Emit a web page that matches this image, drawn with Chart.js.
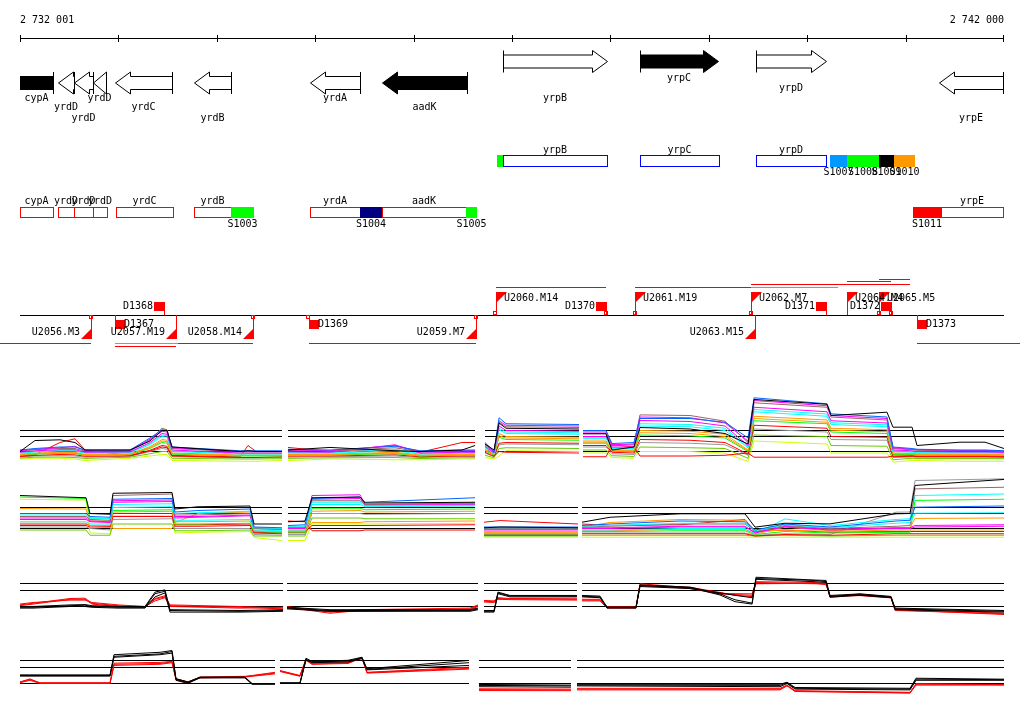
<!DOCTYPE html>
<html>
<head>
<meta charset="utf-8">
<script src="https://cdn.jsdelivr.net/npm/chart.js@4.4.0/dist/chart.umd.min.js"></script>
<style>
  body { margin: 0; background: #fff; }
  #wrap { position: relative; width: 1024px; height: 714px; overflow: hidden; }
  canvas { position: absolute; left: 0; }
</style>
</head>
<body>
<div id="wrap">
  <canvas id="annot"></canvas>
  <canvas id="row1"></canvas>
  <canvas id="row2"></canvas>
  <canvas id="row3"></canvas>
  <canvas id="row4"></canvas>
</div>
<script>
// ---- genome window ----
const X_MIN = 2732001, X_MAX = 2742000;
const RULER_TICKS = [2732001, 2733001, 2734001, 2735001, 2736001, 2737001, 2738001, 2739001, 2740001, 2741001, 2742000];

// ---- genes ----
const geneName   = ['cypA', 'yrdD', 'yrdD', 'yrdD', 'yrdC', 'yrdB', 'yrdA', 'aadK', 'yrpB', 'yrpC', 'yrpD', 'yrpE'];
const geneStart  = [2731700, 2732387, 2732550, 2732743, 2732966, 2733769, 2734948, 2735680, 2736909, 2738301, 2739480, 2741340];
const geneEnd    = [2732336, 2732550, 2732743, 2732875, 2733546, 2734145, 2735456, 2736543, 2737966, 2739094, 2740192, 2741990];
const geneStrand = [-1, -1, -1, -1, -1, -1, -1, -1, 1, 1, 1, -1];

// ---- operon / site boxes ----
const opName   = ['cypA', 'yrdD', 'yrdD', 'yrdD', 'yrdC', 'yrdB', 'S1003', 'yrdA', 'S1004', 'aadK', 'S1005', '', 'yrpB', 'yrpC', 'yrpD', 'S1007', 'S1008', 'S1009', 'S1010', 'S1011', 'yrpE'];
const opStart  = [2732001, 2732387, 2732550, 2732743, 2732977, 2733769, 2734145, 2734948, 2735456, 2735680, 2736533, 2736848, 2736909, 2738301, 2739480, 2740232, 2740405, 2740730, 2740883, 2741076, 2741360];
const opEnd    = [2732336, 2732550, 2732743, 2732885, 2733556, 2734145, 2734379, 2735456, 2735680, 2736533, 2736645, 2736909, 2737966, 2739104, 2740192, 2740405, 2740730, 2740883, 2741096, 2741360, 2741990];
const opStrand = [-1, -1, -1, -1, -1, -1, -1, -1, -1, -1, -1, 1, 1, 1, 1, 1, 1, 1, 1, -1, -1];

// ---- transcription units ----
const tuName   = ['U2056.M3', 'U2057.M19', 'U2058.M14', 'U2059.M7', 'U2060.M14', 'U2061.M19', 'U2062.M7', 'U2063.M15', 'U2064.M4', 'U2065.M5'];
const tuPos    = [2732723, 2733586, 2734369, 2736635, 2736838, 2738251, 2739429, 2739470, 2740405, 2740730];
const tuStrand = [-1, -1, -1, -1, 1, 1, 1, -1, 1, 1];

const siteName   = ['D1367', 'D1368', 'D1369', 'D1370', 'D1371', 'D1372', 'D1373'];
const sitePos    = [2732966, 2733464, 2734938, 2737956, 2740192, 2740852, 2741116];
const siteStrand = [-1, 1, -1, 1, 1, 1, -1];

const markPos    = [2732723, 2734369, 2734928, 2736635, 2736828, 2737956, 2738251, 2739429, 2740730, 2740852];
const markStrand = [-1, -1, -1, -1, 1, 1, 1, 1, 1, 1];

const spanStart = [2731798, 2732966, 2732966, 2733607, 2734938, 2741116, 2736838, 2738251, 2739429, 2739429, 2740405, 2740730];
const spanEnd   = [2732723, 2733607, 2733586, 2734369, 2736635, 2742163, 2737956, 2739429, 2740314, 2741045, 2740852, 2741045];

// ---- expression tracks ----
const ROW1_X = [2732001, 2732153, 2732407, 2732560, 2732662, 2733119, 2733322, 2733444, 2733495, 2733546, 2734237, 2734318, 2734399, 2734663, 2734694,
  2734724, 2735151, 2735812, 2736066, 2736493, 2736625, 2736676,
  2736726, 2736818, 2736869, 2736940, 2737682, 2737702,
  2737722, 2737956, 2738017, 2738240, 2738301, 2738810, 2739165, 2739399, 2739460, 2740202, 2740242, 2740811, 2740872, 2741066, 2741116, 2741553, 2741807, 2742000];
const row1Black    = [0.0, 0.73, 0.78, 0.6, 0.1, 0.1, 0.7, 1.4, 1.4, 0.3, 0.0, 0.05, 0.0, 0.0, null, 0.1, 0.27, 0.05, 0.0, 0.1, 0.4, null, 0.5, 0.1, 1.9, 1.55, 1.5, null, 1.18, 1.18, 0.1, 0.3, 1.6, 1.5, 1.2, 0.5, 3.47, 3.15, 2.4, 2.62, 1.62, 1.62, 0.4, 0.62, 0.62, 0.2];
const row1Blue     = [0.1, 0.2, 0.3, 0.3, 0.1, 0.1, 0.9, 1.45, 1.4, 0.3, 0.05, 0.05, 0.05, 0.05, null, 0.15, 0.1, 0.35, 0.05, 0.1, 0.1, null, 0.6, 0.0, 2.25, 1.85, 1.8, null, 1.4, 1.4, 0.53, 0.6, 2.2, 2.2, 1.95, 0.9, 3.58, 3.18, 2.51, 2.3, 0.3, 0.2, 0.15, 0.1, 0.1, 0.05];
const row1Magenta2 = [0.05, 0.15, 0.25, 0.35, 0.05, 0.05, 0.82, 1.35, 1.3, 0.25, 0.0, 0.0, 0.0, 0.0, null, 0.1, 0.05, 0.4, 0.0, 0.05, 0.05, null, 0.5, -0.02, 2.05, 1.75, 1.7, null, 1.3, 1.3, 0.45, 0.5, 2.3, 2.25, 1.9, 0.7, 3.4, 3.05, 2.4, 2.2, 0.25, 0.15, 0.12, 0.07, 0.07, 0.02];
const row1Brown    = [0.02, 0.12, 0.2, 0.2, 0.02, 0.03, 0.76, 1.55, 1.45, 0.2, -0.02, -0.02, -0.02, -0.02, null, 0.06, 0.03, 0.25, -0.02, 0.03, 0.03, null, 0.45, -0.05, 1.95, 1.65, 1.6, null, 1.2, 1.2, 0.4, 0.45, 2.44, 2.4, 2.02, 0.6, 3.25, 2.95, 2.3, 2.1, 0.2, 0.12, 0.08, 0.04, 0.04, 0.0];
const row1Magenta  = [-0.05, 0.05, 0.12, 0.12, -0.05, -0.03, 0.6, 1.2, 1.15, 0.1, -0.1, -0.1, -0.1, -0.1, null, -0.02, -0.05, 0.45, -0.1, -0.05, -0.05, null, 0.35, -0.1, 1.7, 1.4, 1.35, null, 1.0, 1.0, 0.3, 0.3, 2.07, 2.0, 1.7, 0.4, 2.95, 2.65, 2.05, 1.9, 0.1, 0.05, 0.0, -0.03, -0.03, -0.06];
const row1Cyan2    = [-0.08, 0.0, 0.08, 0.08, -0.08, -0.06, 0.53, 1.1, 1.05, 0.05, -0.13, -0.13, -0.13, -0.13, null, -0.06, -0.08, 0.15, -0.13, -0.08, -0.08, null, 0.3, -0.12, 1.55, 1.3, 1.25, null, 0.92, 0.92, 0.25, 0.25, 1.85, 1.8, 1.55, 0.32, 2.8, 2.5, 1.92, 1.78, 0.05, 0.0, -0.04, -0.06, -0.06, -0.09];
const row1Cyan     = [-0.12, -0.03, 0.03, 0.03, -0.12, -0.1, 0.46, 1.0, 0.95, 0.0, -0.17, -0.17, -0.17, -0.17, null, -0.1, -0.12, 0.05, -0.17, -0.12, -0.12, null, 0.25, -0.15, 1.45, 1.2, 1.15, null, 0.85, 0.85, 0.2, 0.2, 1.7, 1.65, 1.4, 0.25, 2.65, 2.35, 1.8, 1.65, 0.0, -0.05, -0.08, -0.1, -0.1, -0.12];
const row1Orange   = [-0.18, -0.1, -0.05, -0.05, -0.2, -0.16, 0.32, 0.8, 0.75, -0.1, -0.23, -0.23, -0.23, -0.23, null, -0.17, -0.18, -0.05, -0.23, -0.18, -0.18, null, 0.15, -0.2, 1.2, 1.0, 0.95, null, 0.7, 0.7, 0.1, 0.1, 1.4, 1.35, 1.15, 0.1, 2.35, 2.1, 1.55, 1.45, -0.1, -0.12, -0.15, -0.17, -0.17, -0.18];
const row1Orange2  = [-0.22, -0.15, -0.08, -0.08, -0.23, -0.19, 0.26, 0.7, 0.65, -0.14, -0.27, -0.27, -0.27, -0.27, null, -0.2, -0.21, -0.1, -0.27, -0.21, -0.21, null, 0.1, -0.22, 1.05, 0.9, 0.85, null, 0.62, 0.62, 0.05, 0.05, 1.25, 1.2, 1.0, 0.05, 2.2, 1.95, 1.42, 1.32, -0.15, -0.16, -0.18, -0.2, -0.2, -0.22];
const row1Lime     = [-0.25, -0.18, -0.12, -0.12, -0.26, -0.22, 0.2, 0.6, 0.55, -0.18, -0.3, -0.3, -0.3, -0.3, null, -0.24, -0.24, -0.14, -0.3, -0.24, -0.24, null, 0.05, -0.25, 0.95, 0.8, 0.75, null, 0.55, 0.55, 0.0, 0.0, 1.1, 1.05, 0.9, 0.0, 2.05, 1.85, 1.3, 1.2, -0.2, -0.2, -0.22, -0.24, -0.24, -0.25];
const row1Red      = [-0.3, -0.22, 0.6, 0.85, 0.1, -0.26, 0.08, 0.4, 0.35, -0.26, -0.36, 0.4, 0.0, 0.0, null, 0.27, 0.0, 0.1, -0.05, 0.6, 0.6, null, 0.3, -0.3, 0.0, -0.05, -0.1, null, -0.35, -0.35, 0.45, 0.3, -0.3, -0.3, -0.25, -0.1, -0.38, -0.38, -0.38, -0.38, -0.3, -0.28, -0.3, -0.3, -0.3, -0.32];
const row1Red2     = [-0.33, -0.26, -0.2, -0.22, -0.32, -0.29, 0.04, 0.3, 0.25, -0.3, -0.4, -0.4, -0.4, -0.35, null, -0.31, -0.3, -0.22, -0.35, -0.3, -0.3, null, -0.05, -0.32, 0.55, 0.6, 0.55, null, 0.4, 0.4, -0.05, -0.1, 0.8, 0.75, 0.6, -0.18, 1.75, 1.55, 1.0, 0.95, -0.35, -0.32, -0.34, -0.34, -0.34, -0.36];
const row1Gray     = [-0.36, -0.3, -0.28, -0.3, -0.38, -0.32, 0.0, 0.2, 0.15, -0.34, -0.43, -0.43, -0.43, -0.4, null, -0.38, -0.35, -0.3, -0.4, -0.35, -0.35, null, -0.1, -0.35, 0.45, 0.5, 0.45, null, 0.3, 0.3, -0.15, -0.2, 0.6, 0.55, 0.45, -0.25, 1.5, 1.3, 0.8, 0.75, -0.4, -0.36, -0.38, -0.38, -0.38, -0.4];
const row1Green    = [-0.44, -0.38, -0.37, -0.4, -0.46, -0.38, -0.15, 0.0, 0.0, -0.45, -0.5, -0.5, -0.5, -0.48, null, -0.46, -0.42, -0.4, -0.47, -0.42, -0.42, null, -0.25, -0.42, 0.2, 0.25, 0.2, null, 0.1, 0.1, -0.28, -0.33, 0.3, 0.25, 0.2, -0.45, 1.1, 1.0, 0.4, 0.35, -0.55, -0.45, -0.47, -0.47, -0.47, -0.48];
const row1Yellow   = [-0.5, -0.45, -0.45, -0.5, -0.6, -0.45, -0.3, -0.2, -0.2, -0.6, -0.65, -0.65, -0.65, -0.6, null, -0.6, -0.5, -0.55, -0.55, -0.5, -0.5, null, -0.4, -0.5, -0.3, 0.05, 0.0, null, -0.1, -0.1, -0.4, -0.45, 0.0, 0.0, -0.1, -0.67, 0.7, 0.5, -0.1, -0.1, -0.71, -0.6, -0.6, -0.65, -0.65, -0.65];

const ROW2_X = [2732001, 2732672, 2732712, 2732916, 2732946, 2733546, 2733576, 2733810, 2734338, 2734379, 2734663, 2734694,
  2734724, 2734897, 2734968, 2735456, 2735507, 2736625, 2736676,
  2736716, 2736879, 2737671, 2737692,
  2737712, 2737997, 2738708, 2739368, 2739470, 2739775, 2740232, 2740903, 2741045, 2741096, 2742000];
const row2Black    = [2.2, 2.05, 1.0, 0.95, 2.35, 2.4, 1.3, 1.45, 1.5, 0.3, 0.3, null, 0.45, 0.5, 2.05, 2.1, 1.7, 1.75, null, 0.05, 0.1, 0.05, null, 0.42, 0.75, 0.98, 0.98, 0.09, 0.35, 0.31, 0.98, 1.0, 2.87, 3.27];
const row2Blue     = [1.0, 1.0, 0.8, 0.75, 1.95, 2.0, 1.1, 1.2, 1.3, 0.1, 0.05, null, 0.2, 0.25, 2.0, 2.1, 1.75, 2.05, null, 0.1, 0.1, 0.1, null, 0.2, 0.3, 0.5, 0.45, -0.1, 0.3, 0.1, 0.5, 0.55, 1.42, 1.5];
const row2Cyan2    = [0.9, 0.9, 0.7, 0.65, 1.6, 1.65, 1.0, 1.05, 1.15, 0.05, 0.0, null, 0.15, 0.15, 1.75, 1.75, 1.5, 1.55, null, 0.05, 0.05, 0.05, null, 0.15, 0.2, 0.35, 0.35, -0.15, 0.25, 0.05, 0.35, 0.4, 1.02, 1.05];
const row2Brown    = [0.8, 0.8, 0.6, 0.55, 2.2, 2.3, 0.9, 0.9, 1.0, 0.0, -0.05, null, 0.1, 0.1, 1.85, 1.85, 1.6, 1.7, null, 0.0, 0.0, 0.0, null, 0.1, 0.15, 0.3, 0.3, -0.2, 0.2, 0.0, 0.15, 0.2, 2.64, 2.75];
const row2Magenta2 = [0.7, 0.7, 0.5, 0.45, 1.85, 1.9, 0.8, 0.8, 0.9, 0.0, -0.05, null, 0.05, 0.05, 1.95, 2.0, 1.55, 1.6, null, -0.05, -0.05, -0.05, null, 0.05, 0.05, 0.15, 0.15, -0.3, 0.15, -0.05, 0.05, 0.05, 0.2, 0.25];
const row2Magenta  = [0.6, 0.6, 0.45, 0.4, 1.75, 1.8, 0.7, 0.75, 0.85, 0.05, 0.0, null, 0.0, 0.0, 2.2, 2.25, 1.6, 1.65, null, -0.1, -0.1, -0.1, null, 0.0, 0.0, 0.1, 0.1, -0.25, 0.1, -0.1, 0.0, 0.0, 0.1, 0.15];
const row2Cyan     = [0.45, 0.45, 0.3, 0.3, 1.4, 1.45, 0.55, 0.55, 0.6, -0.1, -0.15, null, -0.1, -0.1, 1.6, 1.6, 1.45, 1.5, null, -0.2, -0.2, -0.2, null, -0.1, -0.1, 0.0, 0.0, -0.35, 0.64, 0.2, 0.6, 0.65, 2.2, 2.3];
const row2Orange   = [1.33, 1.3, 0.5, 0.5, 0.0, 0.0, 0.4, 1.0, 1.1, 0.0, -0.05, null, -0.2, -0.2, 0.4, 0.4, 0.45, 0.5, null, -0.3, -0.3, -0.3, null, 0.1, 0.4, 0.6, 0.55, -0.2, -0.1, -0.2, -0.1, -0.1, -0.1, -0.1];
const row2Orange2  = [0.35, 0.35, 0.2, 0.2, 1.1, 1.15, 0.45, 0.45, 0.5, -0.15, -0.2, null, -0.15, -0.15, 1.15, 1.2, 1.1, 1.15, null, -0.25, -0.25, -0.25, null, -0.15, -0.15, -0.05, -0.05, -0.38, 0.1, -0.15, 0.05, 0.05, 0.67, 0.7];
const row2Lime     = [2.1, 2.0, 0.7, 0.65, 1.2, 1.25, 0.3, 0.3, 0.35, -0.2, -0.25, null, -0.3, -0.3, 1.35, 1.35, 1.25, 1.3, null, -0.35, -0.35, -0.35, null, -0.2, -0.2, -0.15, -0.15, -0.4, -0.2, -0.3, -0.25, -0.25, 1.87, 1.95];
const row2Red      = [0.2, 0.2, 0.1, 0.1, 1.0, 1.0, 0.15, 0.15, 0.2, -0.3, -0.35, null, 0.5, 0.45, -0.15, -0.15, -0.1, -0.1, null, 0.42, 0.53, 0.3, null, 0.3, 0.2, 0.25, 0.6, -0.2, -0.1, -0.25, -0.2, -0.2, -0.2, -0.2];
const row2Red2     = [0.3, 0.3, 0.2, 0.15, 0.8, 0.8, 0.25, 0.25, 0.3, -0.25, -0.3, null, -0.25, -0.25, 0.2, 0.2, 0.2, 0.25, null, -0.45, -0.45, -0.45, null, -0.35, -0.35, -0.35, -0.35, -0.5, -0.4, -0.45, -0.35, -0.35, -0.35, -0.35];
const row2Gray     = [0.1, 0.1, 0.0, -0.1, 0.6, 0.65, 0.0, 0.0, 0.0, -0.4, -0.45, null, -0.4, -0.4, 1.0, 1.0, 0.95, 1.0, null, -0.4, -0.4, -0.4, null, -0.3, -0.3, -0.3, -0.3, -0.45, -0.35, -0.4, 1.09, 1.1, 3.2, 3.31];
const row2Green    = [-0.1, -0.1, -0.45, -0.45, 0.3, 0.3, -0.15, -0.15, -0.1, -0.5, -0.5, null, -0.5, -0.5, 0.7, 0.7, 0.65, 0.65, null, -0.5, -0.5, -0.5, null, -0.45, -0.45, -0.45, -0.45, -0.5, -0.45, -0.5, -0.45, -0.45, -0.45, -0.45];
const row2Yellow   = [1.95, 1.9, -0.3, -0.35, 0.85, 0.85, -0.3, -0.25, -0.2, -0.6, -0.8, null, -0.8, -0.8, 0.3, 0.3, 0.3, 0.35, null, -0.58, -0.58, -0.58, null, -0.58, -0.58, -0.58, -0.58, -0.58, -0.58, -0.58, -0.58, -0.58, -0.58, -0.58];

const ROW3_X = [2732001, 2732133, 2732509, 2732662, 2732733, 2732997, 2733271, 2733373, 2733474, 2733525, 2734237, 2734674, 2734694,
  2734714, 2735151, 2735456, 2736574, 2736655, 2736686,
  2736716, 2736818, 2736858, 2736980, 2737661, 2737682,
  2737712, 2737895, 2737966, 2738261, 2738301, 2738810, 2739114, 2739267, 2739440, 2739480, 2740080, 2740192, 2740232, 2740537, 2740852, 2740893, 2742000];
const row3Black1 = [0.0, 0.0, 0.1, 0.12, 0.05, 0.0, 0.0, 0.9, 1.04, -0.2, -0.25, -0.2, null, -0.05, -0.2, -0.2, -0.2, -0.1, null, -0.25, -0.25, 0.9, 0.69, 0.69, null, 0.69, 0.65, -0.04, -0.04, 1.35, 1.21, 0.79, 0.42, 0.21, 1.83, 1.65, 1.63, 0.69, 0.79, 0.63, -0.1, -0.25];
const row3Black2 = [-0.05, -0.05, 0.05, 0.08, 0.0, -0.05, -0.05, 0.8, 0.95, -0.25, -0.3, -0.25, null, -0.1, -0.25, -0.25, -0.25, -0.15, null, -0.3, -0.3, 0.85, 0.65, 0.64, null, 0.64, 0.6, -0.1, -0.1, 1.3, 1.18, 0.72, 0.3, 0.15, 1.75, 1.63, 1.55, 0.63, 0.74, 0.58, -0.15, -0.3];
const row3Black3 = [-0.1, -0.1, 0.0, 0.0, -0.05, -0.1, -0.1, 0.6, 0.85, -0.35, -0.35, -0.3, null, -0.15, -0.3, -0.3, -0.3, -0.2, null, -0.35, -0.35, 0.8, 0.6, 0.6, null, 0.6, 0.55, -0.05, -0.05, 1.25, 1.12, 0.85, 0.7, 0.55, 1.7, 1.55, 1.5, 0.58, 0.7, 0.55, -0.2, -0.35];
const row3Red1   = [0.1, 0.2, 0.5, 0.52, 0.2, 0.05, 0.0, 0.5, 0.67, 0.1, 0.0, -0.1, null, 0.0, -0.35, -0.2, -0.1, 0.1, null, 0.33, 0.3, 0.5, 0.48, 0.45, null, 0.4, 0.4, -0.05, -0.05, 1.42, 1.18, 0.82, 0.8, 0.79, 1.55, 1.5, 1.45, 0.62, 0.78, 0.6, -0.15, -0.42];
const row3Red2   = [0.05, 0.15, 0.45, 0.45, 0.15, 0.0, -0.05, 0.45, 0.6, 0.05, -0.05, -0.15, null, -0.05, -0.42, -0.25, -0.15, 0.05, null, 0.28, 0.25, 0.45, 0.43, 0.4, null, 0.35, 0.35, -0.1, -0.1, 1.35, 1.12, 0.78, 0.75, 0.7, 1.5, 1.42, 1.42, 0.58, 0.72, 0.56, -0.2, -0.5];
const row3Red3   = [0.15, 0.25, 0.4, 0.4, 0.25, 0.1, 0.0, 0.35, 0.55, 0.0, -0.1, -0.05, null, -0.1, -0.3, -0.3, -0.2, 0.0, null, 0.38, 0.35, 0.55, 0.5, 0.48, null, 0.45, 0.45, 0.0, 0.0, 1.3, 1.2, 0.88, 0.7, 0.62, 1.42, 1.45, 1.36, 0.66, 0.68, 0.54, -0.25, -0.45];

const ROW4_X = [2732001, 2732103, 2732204, 2732916, 2732956, 2733424, 2733546, 2733586, 2733708, 2733830, 2734287, 2734359, 2734592, 2734613,
  2734643, 2734846, 2734907, 2734968, 2735334, 2735476, 2735527, 2736564, 2736615,
  2736665, 2737600, 2737631,
  2737661, 2739724, 2739795, 2739877, 2741045, 2741106, 2742000];
const row4Black1 = [0.54, 0.54, 0.54, 0.54, 1.8, 1.95, 2.06, 0.3, 0.1, 0.4, 0.4, 0.0, 0.0, null, 0.05, 0.05, 1.58, 1.38, 1.45, 1.64, 0.92, 1.44, null, -0.06, -0.1, null, -0.05, -0.05, 0.08, -0.25, -0.3, 0.33, 0.27];
const row4Black2 = [0.46, 0.46, 0.46, 0.46, 1.64, 1.8, 1.9, 0.25, 0.05, 0.35, 0.35, -0.05, -0.05, null, 0.0, 0.0, 1.5, 1.3, 1.35, 1.55, 0.85, 1.13, null, -0.2, -0.23, null, -0.15, -0.2, 0.0, -0.35, -0.4, 0.2, 0.2];
const row4Black3 = [0.5, 0.5, 0.5, 0.5, 1.7, 1.85, 2.0, 0.2, 0.0, 0.38, 0.38, -0.02, -0.02, null, 0.02, 0.02, 1.45, 1.35, 1.4, 1.6, 0.88, 1.3, null, -0.12, -0.15, null, -0.1, -0.12, 0.05, -0.3, -0.35, 0.27, 0.24];
const row4Red1   = [0.1, 0.29, 0.02, 0.02, 1.27, 1.32, 1.38, 0.3, 0.08, 0.4, 0.45, 0.5, 0.7, null, 0.81, 0.5, 1.54, 1.27, 1.3, 1.64, 0.7, 1.02, null, -0.33, -0.35, null, -0.3, -0.3, -0.1, -0.45, -0.55, -0.05, -0.05];
const row4Red2   = [0.05, 0.2, 0.0, 0.0, 1.13, 1.2, 1.3, 0.25, 0.05, 0.35, 0.4, 0.45, 0.6, null, 0.75, 0.45, 1.45, 1.2, 1.25, 1.6, 0.65, 0.9, null, -0.44, -0.45, null, -0.4, -0.4, -0.15, -0.5, -0.6, -0.1, -0.1];
const row4Red3   = [0.08, 0.25, 0.05, 0.05, 1.2, 1.25, 1.35, 0.28, 0.1, 0.38, 0.42, 0.48, 0.65, null, 0.78, 0.48, 1.5, 1.22, 1.28, 1.62, 0.68, 0.95, null, -0.38, -0.4, null, -0.35, -0.35, -0.12, -0.48, -0.58, 0.0, -0.08];

const ROW1_SEGS = [[2732001, 2734663], [2734724, 2736625], [2736726, 2737682], [2737722, 2742000]];
const ROW2_SEGS = [[2732001, 2734663], [2734724, 2736625], [2736716, 2737671], [2737712, 2742000]];
const ROW3_SEGS = [[2732001, 2734674], [2734714, 2736655], [2736716, 2737661], [2737712, 2742000]];
const ROW4_SEGS = [[2732001, 2734592], [2734643, 2736564], [2736665, 2737600], [2737661, 2742000]];

// ---- styles / layout ----
const FONT = '10px "DejaVu Sans Mono"';
const RED = '#ff0000', GREEN = '#00ff00';
const FILLED_GENES = ['cypA', 'aadK', 'yrpC'];
const GENE_LABEL_Y = [98, 107, 118, 98, 107, 118, 98, 107, 98, 78, 88, 118];
const SITE_COLOR = { S1003: '#00ff00', S1004: '#000080', S1005: '#00ff00', '': '#00ff00', S1007: '#0099ff', S1008: '#00ff00', S1009: '#000000', S1010: '#ff9900', S1011: '#ff0000' };
const SPAN_LANE = [343, 343, 346, 343, 343, 343, 287, 287, 287, 284, 281, 279];
const SPAN_COLOR = [RED, GREEN, RED, RED, RED, RED, RED, RED, GREEN, RED, RED, RED];
const C = { black: '#000000', blue: '#0066ff', brown: '#996666', magenta: '#ff00ff', cyan: '#00ffff', orange: '#ff9900', lime: '#00ff00', red: '#ff0000', gray: '#999999', green: '#66cc00', yellow: '#ccff00' };

const fmtPos = n => String(n).replace(/\B(?=(\d{3})+(?!\d))/g, ' ');

function baseOptions(yMin, yMax, reverse) {
  return {
    responsive: false, animation: false, devicePixelRatio: 1, events: [],
    layout: { padding: { left: 20, right: 20, top: 0, bottom: 0 } },
    plugins: { legend: { display: false }, tooltip: { enabled: false } },
    scales: {
      x: { type: 'linear', min: X_MIN, max: X_MAX, display: false },
      y: { type: 'linear', min: yMin, max: yMax, reverse: !!reverse, display: false }
    }
  };
}

// annotation tracks: ruler, genes, operons, transcription units
const trackPlugin = {
  id: 'tracks',
  afterDatasetsDraw(chart) {
    const ctx = chart.ctx, area = chart.chartArea;
    const X = v => chart.scales.x.getPixelForValue(v);
    const Y = v => chart.scales.y.getPixelForValue(v);
    const xi = v => Math.round(X(v));
    ctx.save();
    ctx.font = FONT;
    ctx.textBaseline = 'middle';
    ctx.lineWidth = 1;

    // ruler
    ctx.strokeStyle = '#000';
    ctx.beginPath();
    ctx.moveTo(X(X_MIN), Y(38.5)); ctx.lineTo(X(X_MAX), Y(38.5));
    RULER_TICKS.forEach(t => {
      const x = Math.min(xi(t), area.right - 1) + 0.5;
      ctx.moveTo(x, Y(35)); ctx.lineTo(x, Y(42));
    });
    ctx.stroke();
    ctx.fillStyle = '#000';
    ctx.textAlign = 'left'; ctx.fillText(fmtPos(X_MIN), X(X_MIN), Y(20));
    ctx.textAlign = 'right'; ctx.fillText(fmtPos(X_MAX), X(X_MAX), Y(20));

    // genes
    ctx.save();
    ctx.beginPath(); ctx.rect(area.left, 0, area.right - area.left, chart.height); ctx.clip();
    geneName.forEach((name, i) => {
      const x1 = xi(geneStart[i]) + 0.5, x2 = xi(geneEnd[i]) + 0.5;
      const cy = geneStrand[i] > 0 ? Y(61.5) : Y(83);
      const bh = 6.5, hh = 11, hl = Math.min(15, x2 - x1);
      ctx.beginPath();
      if (geneStrand[i] > 0) {
        ctx.moveTo(x1, cy - bh); ctx.lineTo(x2 - hl, cy - bh); ctx.lineTo(x2 - hl, cy - hh);
        ctx.lineTo(x2, cy); ctx.lineTo(x2 - hl, cy + hh); ctx.lineTo(x2 - hl, cy + bh); ctx.lineTo(x1, cy + bh);
      } else {
        ctx.moveTo(x2, cy - bh); ctx.lineTo(x1 + hl, cy - bh); ctx.lineTo(x1 + hl, cy - hh);
        ctx.lineTo(x1, cy); ctx.lineTo(x1 + hl, cy + hh); ctx.lineTo(x1 + hl, cy + bh); ctx.lineTo(x2, cy + bh);
      }
      ctx.closePath();
      ctx.fillStyle = FILLED_GENES.includes(name) ? '#000' : '#fff';
      ctx.fill();
      ctx.strokeStyle = '#000';
      ctx.stroke();
      const sx = geneStrand[i] > 0 ? x1 : x2;
      ctx.beginPath(); ctx.moveTo(sx, cy - hh); ctx.lineTo(sx, cy + hh); ctx.stroke();
    });
    ctx.restore();
    ctx.fillStyle = '#000'; ctx.textAlign = 'center';
    geneName.forEach((name, i) => {
      const a = Math.max(X(geneStart[i]), area.left), b = Math.min(X(geneEnd[i]), area.right);
      ctx.fillText(name, (a + b) / 2, Y(GENE_LABEL_Y[i]));
    });

    // operon / site boxes
    opName.forEach((name, i) => {
      const top = opStrand[i] > 0 ? 155 : 207, h = opStrand[i] > 0 ? 11 : 10;
      const x1 = xi(opStart[i]), x2 = xi(opEnd[i]);
      const isSite = name === '' || name[0] === 'S';
      if (isSite) {
        ctx.fillStyle = SITE_COLOR[name];
        ctx.fillRect(x1, Y(top), x2 - x1, h + 1);
      } else {
        ctx.strokeStyle = opStrand[i] > 0 ? '#0000ff' : RED;
        ctx.strokeRect(x1 + 0.5, Y(top) + 0.5, x2 - x1, h);
      }
    });
    ctx.fillStyle = '#000'; ctx.textAlign = 'center';
    opName.forEach((name, i) => {
      if (!name) return;
      const isSite = name[0] === 'S';
      const cx = (X(opStart[i]) + X(opEnd[i])) / 2;
      const ly = opStrand[i] > 0 ? (isSite ? 172 : 150) : (isSite ? 224 : 201);
      ctx.fillText(name, cx, Y(ly));
    });

    // transcription unit baseline
    ctx.strokeStyle = '#000';
    ctx.beginPath(); ctx.moveTo(X(X_MIN), Y(315.5)); ctx.lineTo(X(X_MAX), Y(315.5)); ctx.stroke();

    ctx.strokeStyle = RED; ctx.fillStyle = RED;
    markPos.forEach((p, i) => {
      const x = xi(p);
      ctx.strokeRect(x - 1.5, markStrand[i] > 0 ? Y(311.5) : Y(315.5), 3, 3);
    });
    tuPos.forEach((p, i) => {
      const x = xi(p);
      ctx.beginPath();
      if (tuStrand[i] > 0) {
        ctx.moveTo(x + 0.5, Y(315)); ctx.lineTo(x + 0.5, Y(292)); ctx.stroke();
        ctx.beginPath(); ctx.moveTo(x, Y(292)); ctx.lineTo(x + 11, Y(292)); ctx.lineTo(x, Y(303)); ctx.closePath(); ctx.fill();
      } else {
        ctx.moveTo(x + 0.5, Y(315)); ctx.lineTo(x + 0.5, Y(339)); ctx.stroke();
        ctx.beginPath(); ctx.moveTo(x + 1, Y(339)); ctx.lineTo(x - 10, Y(339)); ctx.lineTo(x + 1, Y(328)); ctx.closePath(); ctx.fill();
      }
    });
    sitePos.forEach((p, i) => {
      const x = xi(p);
      ctx.beginPath();
      if (siteStrand[i] > 0) {
        ctx.fillRect(x - 10, Y(302), 10, 9);
        ctx.moveTo(x + 0.5, Y(302)); ctx.lineTo(x + 0.5, Y(315));
      } else {
        ctx.fillRect(x, Y(320), 10, 9);
        ctx.moveTo(x + 0.5, Y(315)); ctx.lineTo(x + 0.5, Y(329));
      }
      ctx.stroke();
    });
    ctx.fillStyle = '#000';
    tuName.forEach((name, i) => {
      const x = xi(tuPos[i]);
      if (tuStrand[i] > 0) { ctx.textAlign = 'left'; ctx.fillText(name, x + 8, Y(298)); }
      else { ctx.textAlign = 'right'; ctx.fillText(name, x - 11, Y(332)); }
    });
    siteName.forEach((name, i) => {
      const x = xi(sitePos[i]);
      if (siteStrand[i] > 0) { ctx.textAlign = 'right'; ctx.fillText(name, x - 11, Y(306)); }
      else { ctx.textAlign = 'left'; ctx.fillText(name, x + 9, Y(324)); }
    });
    ctx.restore();
  }
};

// annotation chart (y is the track lane, top = 0)
const annot = document.getElementById('annot');
annot.width = 1024; annot.height = 360; annot.style.top = '0px';
new Chart(annot, {
  type: 'line',
  data: {
    datasets: spanStart.map((s, i) => ({
      data: [{ x: s, y: SPAN_LANE[i] + 0.5 }, { x: spanEnd[i], y: SPAN_LANE[i] + 0.5 }],
      borderColor: SPAN_COLOR[i], borderWidth: 1, pointRadius: 0, clip: false
    }))
  },
  options: baseOptions(0, 360, true),
  plugins: [trackPlugin]
});

// expression rows
const rows = [
  { id: 'row1', top: 360, height: 106, zero: 451, unit: 15, levels: [0, 1, 1.4], segs: ROW1_SEGS, x: ROW1_X,
    series: [[row1Black, C.black], [row1Blue, C.blue], [row1Magenta2, C.magenta], [row1Brown, C.brown], [row1Magenta, C.magenta], [row1Cyan2, C.cyan],
             [row1Cyan, C.cyan], [row1Orange, C.orange], [row1Orange2, C.orange], [row1Lime, C.lime], [row1Red, C.red], [row1Red2, C.red],
             [row1Gray, C.gray], [row1Green, C.green], [row1Yellow, C.yellow]] },
  { id: 'row2', top: 466, height: 84, zero: 528, unit: 15, levels: [0, 1, 1.4], segs: ROW2_SEGS, x: ROW2_X,
    series: [[row2Black, C.black], [row2Blue, C.blue], [row2Cyan2, C.cyan], [row2Brown, C.brown], [row2Magenta2, C.magenta], [row2Magenta, C.magenta],
             [row2Cyan, C.cyan], [row2Orange, C.orange], [row2Orange2, C.orange], [row2Lime, C.lime], [row2Red, C.red], [row2Red2, C.red],
             [row2Gray, C.gray], [row2Green, C.green], [row2Yellow, C.yellow]] },
  { id: 'row3', top: 550, height: 80, zero: 606, unit: 16, levels: [0, 1, 1.4375], segs: ROW3_SEGS, x: ROW3_X,
    series: [[row3Black1, C.black], [row3Black2, C.black], [row3Black3, C.black], [row3Red1, C.red], [row3Red2, C.red], [row3Red3, C.red]] },
  { id: 'row4', top: 630, height: 84, zero: 683, unit: 16, levels: [0, 1, 1.4375], segs: ROW4_SEGS, x: ROW4_X,
    series: [[row4Black1, C.black], [row4Black2, C.black], [row4Black3, C.black], [row4Red1, C.red], [row4Red2, C.red], [row4Red3, C.red]] }
];

rows.forEach(r => {
  const cv = document.getElementById(r.id);
  cv.width = 1024; cv.height = r.height; cv.style.top = r.top + 'px';
  const yMax = (r.zero - r.top + 0.5) / r.unit;
  const yMin = yMax - r.height / r.unit;
  const datasets = r.series.map(([vals, color]) => ({
    data: r.x.map((x, i) => ({ x, y: vals[i] })),
    borderColor: color, borderWidth: 1, pointRadius: 0, tension: 0, fill: false, spanGaps: false, order: 0, clip: false
  }));
  r.levels.forEach(lv => {
    const pts = [];
    r.segs.forEach(([s, e]) => pts.push({ x: s, y: lv }, { x: e, y: lv }, { x: e + 1, y: null }));
    datasets.push({ data: pts, borderColor: '#000', borderWidth: 1, pointRadius: 0, spanGaps: false, order: 1 });
  });
  new Chart(cv, { type: 'line', data: { datasets }, options: baseOptions(yMin, yMax) });
});
</script>
</body>
</html>
